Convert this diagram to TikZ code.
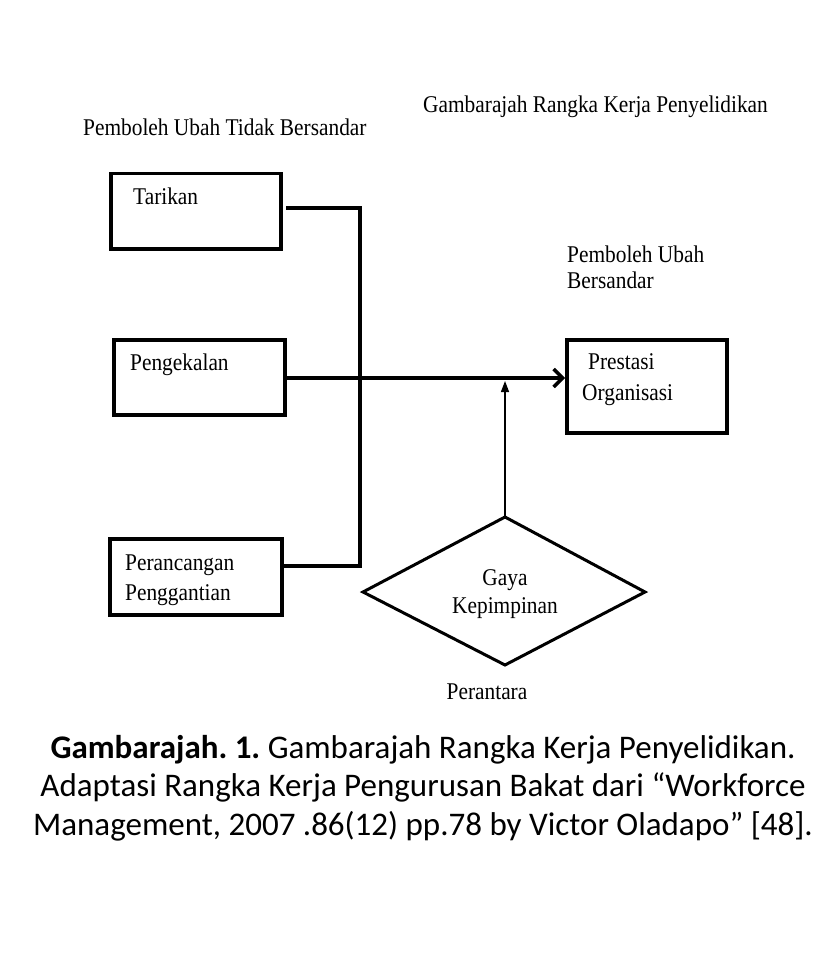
\documentclass[tikz,border=0pt]{standalone}
\usepackage{fontspec}
\setmainfont{Liberation Serif}
\newfontfamily\diagfont[FakeStretch=0.89]{Liberation Serif}
\newfontfamily\capfont{Carlito}
\usetikzlibrary{arrows.meta}
\frenchspacing
\begin{document}
\begin{tikzpicture}[x=1pt,y=-1pt,
  lbl/.style={font=\diagfont\fontsize{24}{28}\selectfont, inner sep=0pt},
  boxstyle/.style={draw, line width=3.5pt},
  conn/.style={line width=3.5pt},
  capt/.style={font=\capfont\fontsize{33}{38.5}\selectfont, align=center, inner sep=0pt}]
\useasboundingbox[fill=white] (0,0) rectangle (838,976);
% boxes
\node[boxstyle, minimum width=170pt, minimum height=75pt, anchor=north west] (tar) at (109,172) {};
\node[lbl, anchor=base west] (tart) at (133,205) {Tarikan};
\node[boxstyle, minimum width=171pt, minimum height=75pt, anchor=north west] (pen) at (112,338) {};
\node[lbl, anchor=base west] (pent) at (130,370) {Pengekalan};
\node[boxstyle, minimum width=172pt, minimum height=76pt, anchor=north west] (per) at (108,537) {};
\node[lbl, anchor=base west] (pert) at (125,570) {Perancangan};
\node[lbl, anchor=base west] (pert2) at (125,600) {Penggantian};
\node[boxstyle, minimum width=160pt, minimum height=93pt, anchor=north west] (pre) at (565,338) {};
\node[lbl, anchor=base west] (pret) at (588,369) {Prestasi};
\node[lbl, anchor=base west] (pret2) at (582,400) {Organisasi};
% diamond
\coordinate (dt) at (505,517);
\coordinate (dl) at (363,592);
\coordinate (dr) at (645,592);
\coordinate (db) at (505,665);
\draw[line width=3pt, line join=miter] (dt) -- (dr) -- (db) -- (dl) -- cycle;
\node[lbl, anchor=base] (gaya) at (505,585) {Gaya};
\node[lbl, anchor=base] (kep) at (505,613) {Kepimpinan};
% connectors
\coordinate (jt) at (360,208);
\coordinate (jb) at (360,566);
\coordinate (ts) at (286,208);
\coordinate (bs) at (283,566);
\coordinate (ms) at (286,378);
\coordinate (me) at (565,378);
\coordinate (ae) at (505,381);
\draw[conn, line join=miter] (ts) -- (jt) -- (jb) -- (bs);
\draw[conn, -{Straight Barb[length=9pt,width=18pt,line width=3.5pt]}] (ms) -- (me);
\draw[line width=1.3pt, -{Triangle[length=11pt,width=8pt]}] (dt) -- (ae);
% labels
\node[lbl, anchor=base west] (ind) at (83,136) {Pemboleh Ubah Tidak Bersandar};
\node[lbl, anchor=base west] (title) at (423,113) {Gambarajah Rangka Kerja Penyelidikan};
\node[lbl, anchor=base west] (dep1) at (567,262) {Pemboleh Ubah};
\node[lbl, anchor=base west] (dep2) at (567,288) {Bersandar};
\node[lbl, anchor=base] (mod) at (487,699) {Perantara};
% caption
\node[capt] (cap) at (423,788) {{\bfseries Gambarajah. 1.} Gambarajah Rangka Kerja Penyelidikan.\\Adaptasi Rangka Kerja Pengurusan Bakat dari “Workforce\\Management, 2007 .86(12) pp.78 by Victor Oladapo” [48].};
\end{tikzpicture}
\end{document}
